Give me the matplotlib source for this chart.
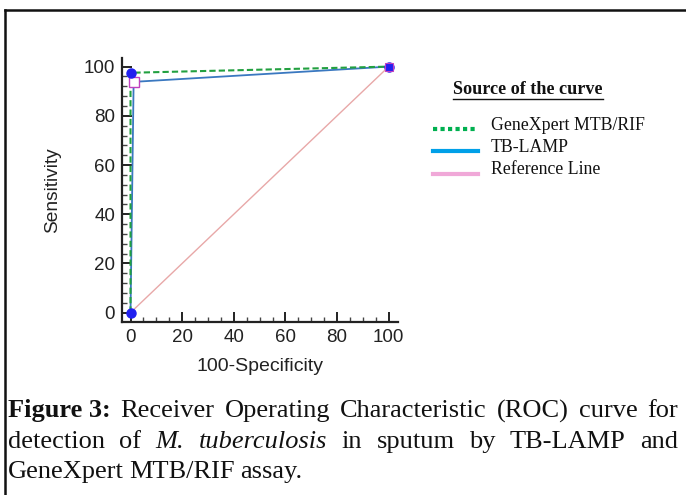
import matplotlib
matplotlib.use("Agg")
import matplotlib.pyplot as plt
from matplotlib.lines import Line2D

# ---- data ----
genexpert_x = [0, 0, 100]
genexpert_y = [0, 97.5, 100]
tblamp_x = [0, 1.2, 100]
tblamp_y = [0, 93.8, 100]
ref_x = [0, 100]
ref_y = [0, 100]
ticks = [0, 20, 40, 60, 80, 100]
legend_labels = ["GeneXpert MTB/RIF", "TB-LAMP", "Reference Line"]
legend_title = "Source of the curve"
caption_lines = [
    ["Figure 3:", "Receiver", "Operating", "Characteristic", "(ROC)", "curve", "for"],
    ["detection", "of", "M.", "tuberculosis", "in", "sputum", "by", "TB-LAMP", "and"],
    ["GeneXpert", "MTB/RIF", "assay."],
]

W, H = 686, 495
fig = plt.figure(figsize=(W / 100, H / 100), dpi=100)

def fx(px):
    return px / W

def fy(py):
    return 1 - py / H

ax = fig.add_axes([fx(122), fy(322), fx(398) - fx(122), fy(58) - fy(322)])
ax.set_xlim(-3.3, 103.6)
ax.set_ylim(-3.8, 103.5)
for s in ["top", "right"]:
    ax.spines[s].set_visible(False)
for s in ["left", "bottom"]:
    ax.spines[s].set_linewidth(1.6)
    ax.spines[s].set_color("#222222")

ax.plot(ref_x, ref_y, color="#e8a8a8", lw=1.0, zorder=1)
ax.plot(tblamp_x, tblamp_y, color="#3a78c0", lw=1.3, zorder=2)
ax.plot(genexpert_x, genexpert_y, color="#22a040", lw=1.5, ls=(0, (3, 1.5)), zorder=3)
ax.plot(tblamp_x[1:2], tblamp_y[1:2], ls="none", marker="s", ms=7, mfc="white",
        mec="#c040c0", mew=1.0, zorder=4)
ax.plot(genexpert_x, genexpert_y, ls="none", marker="o",
        ms=6.5, mfc="#2020f0", mec="#2020f0", zorder=5)
ax.plot(tblamp_x[2:], tblamp_y[2:], ls="none", marker="s", ms=6, mfc="#2020f0",
        mec="#c040c0", mew=0.8, zorder=5)

ax.set_xticks(ticks)
ax.set_yticks(ticks)
ax.set_xticks(range(0, 101, 5), minor=True)
ax.set_yticks(range(0, 101, 4), minor=True)
ax.tick_params(which="major", direction="in", length=7, width=1.4, labelsize=13.5,
               colors="#222222", pad=5)
ax.tick_params(which="minor", direction="in", length=3.5, width=1.0, colors="#444444")
for lab in ax.get_xticklabels() + ax.get_yticklabels():
    lab.set_fontfamily("Liberation Sans")
ax.set_xlabel("100-Specificity", fontsize=14, family="Liberation Sans", labelpad=9,
              color="#222222")
ax.set_ylabel("Sensitivity", fontsize=13.8, family="Liberation Sans", labelpad=16,
              color="#222222")

# ---- legend (manual) ----
t = fig.text(fx(528), fy(89), legend_title, family="Liberation Serif", weight="bold",
             fontsize=13.1, ha="center", va="center", color="#111111")
fig.canvas.draw()
r = fig.canvas.get_renderer()
bb = t.get_window_extent(r)
fig.add_artist(Line2D([bb.x0 / W, bb.x1 / W], [(bb.y0 - 1) / H, (bb.y0 - 1) / H],
                      color="#111111", lw=1.0))

leg_y = [125, 147, 170]
leg_styles = [dict(color="#00b050", ls=(0, (1, 0.8)), lw=3),
              dict(color="#00a0e8", ls="-", lw=3),
              dict(color="#f0a8d8", ls="-", lw=3)]
for yy, lab, st in zip(leg_y, legend_labels, leg_styles):
    fig.add_artist(Line2D([fx(433), fx(478)], [fy(yy + 4), fy(yy + 4)], **st))
    fig.text(fx(491), fy(yy), lab, family="Liberation Serif", fontsize=12.8,
             ha="left", va="center", color="#111111")

# ---- border ----
fig.add_artist(Line2D([fx(5), 1], [fy(10), fy(10)], color="#111111", lw=1.8))
fig.add_artist(Line2D([fx(5), fx(5)], [fy(10), 0], color="#111111", lw=1.8))

# ---- caption (justified) ----
cap_size = 19
left_px, right_px = 8, 678
line_y = [411, 442, 472]
for i, (words, yy) in enumerate(zip(caption_lines, line_y)):
    arts = []
    for w in words:
        kw = dict(family="Liberation Serif", fontsize=cap_size, ha="left",
                  va="center", color="#111111")
        if w == "Figure 3:":
            kw["weight"] = "bold"
        if w == "tuberculosis" or w == "M.":
            kw["style"] = "italic"
        arts.append(fig.text(0, fy(yy), w, **kw))
    fig.canvas.draw()
    widths = [a.get_window_extent(r).width for a in arts]
    if i < 2:
        gap = (right_px - left_px - sum(widths)) / (len(words) - 1)
    else:
        gap = 5.5
    x = left_px
    for a, wdt in zip(arts, widths):
        a.set_x(fx(x))
        x += wdt + gap

fig.savefig("out.png", dpi=100)
